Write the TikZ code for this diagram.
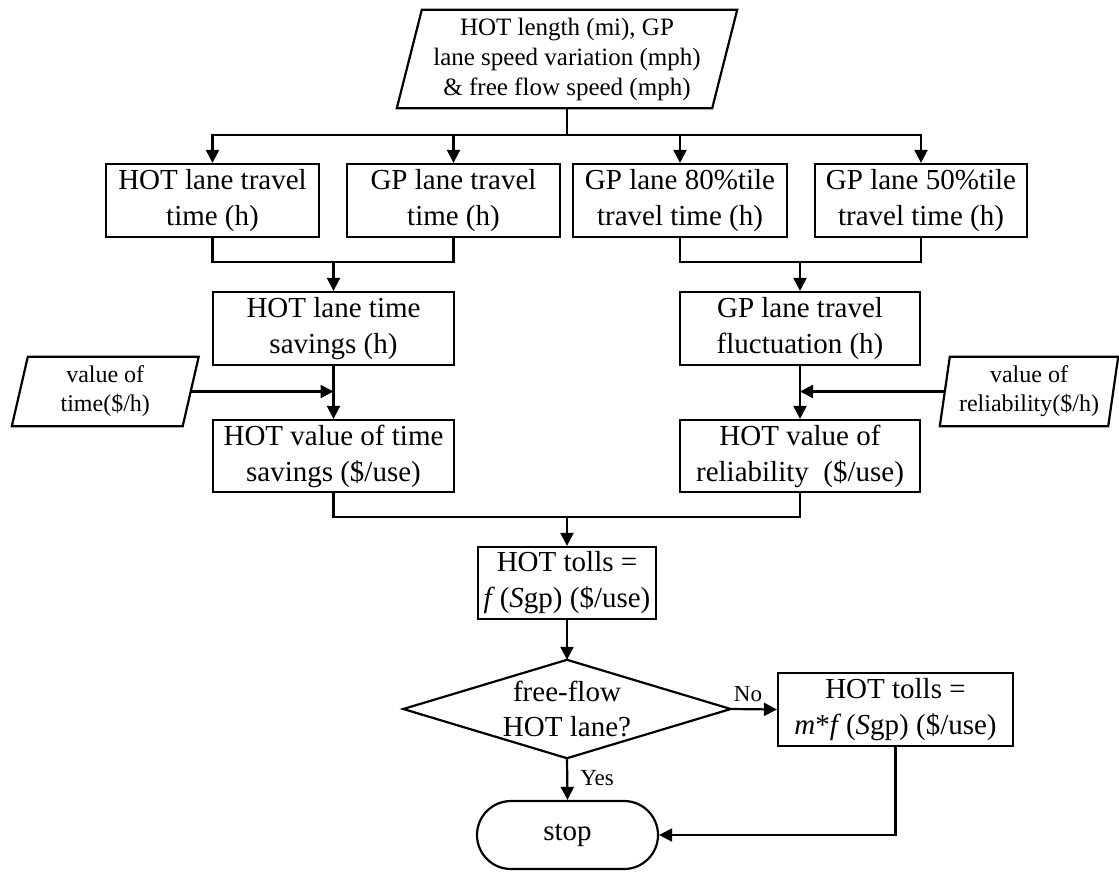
\documentclass[tikz,border=0pt]{standalone}
\usepackage{fontspec}
\setmainfont{Liberation Serif}
\usetikzlibrary{arrows.meta,shapes.misc}
\begin{document}
\begin{tikzpicture}[x=1pt,y=-1pt,
  lw/.style={line width=2.2pt},
  box/.style={draw, lw, inner sep=0pt, align=center, font=\fontsize{29}{36}\selectfont},
  ptext/.style={inner sep=0pt, align=center},
  arr/.style={lw, -{Triangle[length=13pt,width=13pt]}},
  lbl/.style={inner sep=0pt, font=\fontsize{23}{27}\selectfont}]
\useasboundingbox (0,0) rectangle (1119,871);

% input parallelogram
\node[ptext, font=\fontsize{25}{30}\selectfont, minimum width=315pt, minimum height=98pt] (in) at (567,59)
  {HOT length (mi), GP\\lane speed variation (mph)\\\& free flow speed (mph)};
\draw[lw] ([xshift=12.5pt]in.north west) -- ([xshift=12.5pt]in.north east) -- ([xshift=-12.5pt]in.south east) -- ([xshift=-12.5pt]in.south west) -- cycle;

% row 1
\node[box, minimum width=213pt, minimum height=73pt] (b1) at (212.5,200.5) {HOT lane travel\\time (h)};
\node[box, minimum width=213pt, minimum height=73pt] (b2) at (453.5,200.5) {GP lane travel\\time (h)};
\node[box, minimum width=214pt, minimum height=73pt] (b3) at (680,200.5) {GP lane 80\%tile\\travel time (h)};
\node[box, minimum width=212pt, minimum height=73pt] (b4) at (921,200.5) {GP lane 50\%tile\\travel time (h)};

\coordinate (split) at (567,135);
\draw[lw] (in.south) -- (split);
\draw[arr] (split) -| (b1.north);
\draw[arr] (split) -| (b2.north);
\draw[arr] (split) -| (b3.north);
\draw[arr] (split) -| (b4.north);

% row 2
\node[box, minimum width=241pt, minimum height=73pt] (sav) at (333.5,328.5) {HOT lane time\\savings (h)};
\node[box, minimum width=240pt, minimum height=73pt] (flu) at (800,328.5) {GP lane travel\\fluctuation (h)};
\coordinate (j1) at (333.5,262);
\coordinate (j2) at (800,262);
\draw[lw] (b1.south) |- (j1);
\draw[lw] (b2.south) |- (j1);
\draw[arr] (j1) -- (sav.north);
\draw[lw] (b3.south) |- (j2);
\draw[lw] (b4.south) |- (j2);
\draw[arr] (j2) -- (flu.north);

% row 3
\node[box, minimum width=241pt, minimum height=72pt] (vots) at (333.5,456) {HOT value of time\\savings (\$/use)};
\node[box, minimum width=240pt, minimum height=72pt] (vor) at (800,456) {HOT value of\\reliability\ \ (\$/use)};
\draw[arr] (sav.south) -- (vots.north);
\draw[arr] (flu.south) -- (vor.north);

% side inputs
\node[ptext, font=\fontsize{24}{29}\selectfont, minimum width=170.5pt, minimum height=69pt] (vot) at (105.25,391.5)
  {value of\\time(\$/h)};
\draw[lw] ([xshift=8pt]vot.north west) -- ([xshift=8pt]vot.north east) -- ([xshift=-8pt]vot.south east) -- ([xshift=-8pt]vot.south west) -- cycle;
\node[ptext, font=\fontsize{24}{29}\selectfont, minimum width=168pt, minimum height=69pt] (rel) at (1029,391.5)
  {value of\\reliability(\$/h)};
\draw[lw] ([xshift=5pt]rel.north west) -- ([xshift=5pt]rel.north east) -- ([xshift=-5pt]rel.south east) -- ([xshift=-5pt]rel.south west) -- cycle;
\draw[arr] (vot.east) -- (vot.east -| sav.south);
\draw[arr] (rel.west) -- (rel.west -| flu.south);

% tolls
\node[box, minimum width=178pt, minimum height=72pt] (tolls) at (567,583)
  {HOT tolls =\\\textit{f}\,(\textit{S}gp) (\$/use)};
\coordinate (j3) at (567,517);
\draw[lw] (vots.south) |- (j3);
\draw[lw] (vor.south) |- (j3);
\draw[arr] (j3) -- (tolls.north);

% decision
\node[ptext, font=\fontsize{29}{35}\selectfont, minimum width=327pt, minimum height=98pt] (dec) at (567,709)
  {free-flow\\HOT lane?};
\draw[lw] (dec.north) -- (dec.east) -- (dec.south) -- (dec.west) -- cycle;
\draw[arr] (tolls.south) -- (dec.north);

\node[box, minimum width=235pt, minimum height=73pt] (mf) at (895.5,709.5)
  {HOT tolls =\\\textit{m}*\textit{f}\,(\textit{S}gp) (\$/use)};
\node[draw, lw, rounded rectangle, inner sep=0pt, minimum width=181pt, minimum height=68pt,
  font=\fontsize{29}{36}\selectfont] (stop) at (567.5,835) {stop};

\draw[arr] (dec.east) -- (mf.west);
\draw[arr] (dec.south) -- (stop.north);
\draw[arr] (mf.south) |- (stop.east);

\node[lbl] (no) at (748,694) {No};
\node[lbl] (yes) at (597,778.5) {Yes};
\end{tikzpicture}
\end{document}
